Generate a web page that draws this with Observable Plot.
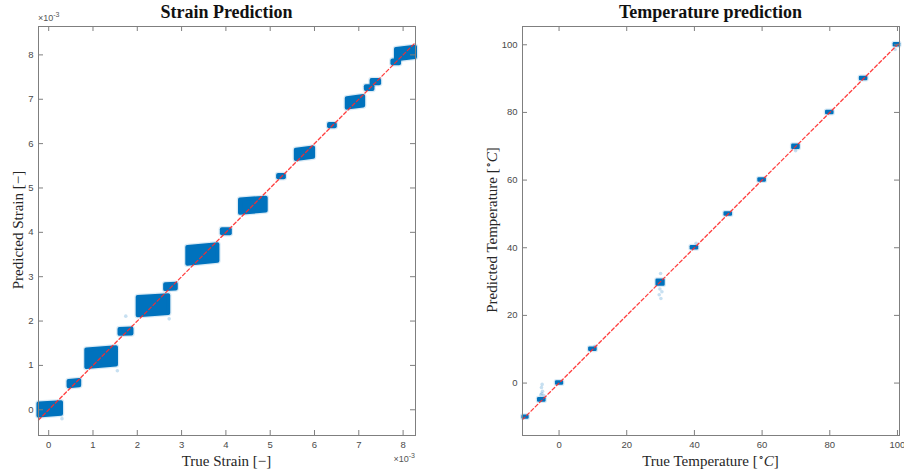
<!DOCTYPE html>
<html><head><meta charset="utf-8">
<script src="https://cdn.jsdelivr.net/npm/d3@7"></script>
<script src="https://cdn.jsdelivr.net/npm/@observablehq/plot@0.6"></script>
<style>
body{margin:0;background:#fff;}
#wrap{position:relative;width:904px;height:472px;overflow:hidden;background:#fff;}
.panel{position:absolute;top:0;}
#overlay{position:absolute;left:0;top:0;pointer-events:none;}
</style></head>
<body><div id="wrap"></div>
<script>
// ---- Strain prediction clusters (units of 1e-3) ----
// true-strain extent of each cluster, and predicted extent at its left and right edge
const strainTrueLo  = [-0.22, 0.46, 0.86, 1.61, 2.02, 2.64, 3.14, 3.92, 4.33, 5.19, 5.59, 6.34, 6.74, 7.17, 7.30, 7.77, 7.85];
const strainTrueHi  = [ 0.29, 0.70, 1.53, 1.88, 2.71, 2.88, 3.82, 4.10, 4.91, 5.32, 5.98, 6.47, 7.11, 7.32, 7.47, 7.92, 8.28];
const strainPredLoL = [-0.14, 0.52, 0.95, 1.70, 2.12, 2.71, 3.28, 3.97, 4.43, 5.23, 5.64, 6.38, 6.80, 7.22, 7.35, 7.80, 7.89];
const strainPredHiL = [ 0.13, 0.64, 1.35, 1.81, 2.53, 2.82, 3.66, 4.06, 4.73, 5.28, 5.85, 6.43, 7.01, 7.28, 7.42, 7.86, 8.12];
const strainPredLoR = [-0.10, 0.54, 1.01, 1.71, 2.17, 2.72, 3.35, 3.97, 4.48, 5.23, 5.69, 6.38, 6.85, 7.22, 7.35, 7.80, 7.94];
const strainPredHiR = [ 0.16, 0.66, 1.40, 1.82, 2.57, 2.83, 3.72, 4.06, 4.77, 5.28, 5.90, 6.43, 7.06, 7.28, 7.42, 7.86, 8.17];
const strainStrayTrue = [1.55, 1.74, 2.72, 0.30];
const strainStrayPred = [0.88, 2.11, 2.05, -0.20];
const strainTicks = [0, 1, 2, 3, 4, 5, 6, 7, 8];

// ---- Temperature prediction clusters (°C) ----
const tempTrueLo = [-10.6, -6.0, -0.7,  9.1, 29.0, 39.1, 49.1, 59.1, 69.1, 79.1, 89.1, 99.1];
const tempTrueHi = [ -9.2, -4.2,  1.0, 10.9, 31.0, 40.9, 50.9, 60.9, 70.9, 80.9, 90.9, 100.6];
const tempPredLo = [-10.3, -5.3, -0.3,  9.7, 29.0, 39.7, 49.7, 59.7, 69.4, 79.7, 89.7, 99.7];
const tempPredHi = [ -9.8, -4.6,  0.3, 10.3, 30.4, 40.3, 50.3, 60.3, 70.3, 80.3, 90.3, 100.3];
const tempStrayTrue = [-5.0, -5.2, -4.9, -5.1, -4.5, -5.4, 30.0, 29.8, 30.4, 29.6, 30.1, 40.5, 99.3, 69.9, 10.6];
const tempStrayPred = [-0.4, -1.3, -2.4, -3.1, -3.7, -3.5, 32.4, 27.8, 27.0, 26.1, 25.0, 41.3, 98.6, 68.7, 10.9];
const tempTicks = [0, 20, 40, 60, 80, 100];

const BLUE = "#0072BD";
const AX = "#7f7f7f";

// each cluster becomes a two-stop band (left edge, right edge)
function bands(xl, xh, loL, hiL, loR, hiR) {
  const out = [];
  xl.forEach((d, i) => {
    out.push({id: i, x: d, lo: loL[i], hi: hiL[i]});
    out.push({id: i, x: xh[i], lo: loR[i], hi: hiR[i]});
  });
  return out;
}
function pts(xs, ys) { return xs.map((d, i) => ({x: d, y: ys[i]})); }

function panel({xDomain, yDomain, xTicks, yTicks, ml, mr, clusters, strays, lo, hi, sw}) {
  const W = 452, H = 472, mt = 26, mb = 37;
  const ph = H - mt - mb, pw = W - ml - mr;
  return Plot.plot({
    width: W, height: H, marginLeft: ml, marginRight: mr, marginTop: mt, marginBottom: mb,
    x: {domain: xDomain}, y: {domain: yDomain},
    style: {fontFamily: "'Liberation Sans', Arial, sans-serif", fontSize: "9.5px", color: "#4a4a4a", background: "white", overflow: "visible"},
    marks: [
      Plot.areaY(clusters, {x: "x", y1: "lo", y2: "hi", z: "id", fill: BLUE, fillOpacity: 0.15,
        stroke: BLUE, strokeOpacity: 0.15, strokeWidth: sw + 2.5, strokeLinejoin: "round"}),
      Plot.areaY(clusters, {x: "x", y1: "lo", y2: "hi", z: "id", fill: BLUE,
        stroke: BLUE, strokeWidth: sw, strokeLinejoin: "round"}),
      Plot.dot(strays, {x: "x", y: "y", r: 1.8, fill: BLUE, fillOpacity: 0.22}),
      Plot.line([[lo, lo], [hi, hi]], {x: d => d[0], y: d => d[1], stroke: "#ff2a2a", strokeOpacity: 0.9, strokeWidth: 1.3, strokeDasharray: "3.5,2.5"}),
      Plot.frame({stroke: AX, strokeWidth: 1}),
      Plot.ruleX(xTicks, {x: d => d, insetTop: ph - 5, stroke: AX}),
      Plot.ruleX(xTicks, {x: d => d, insetBottom: ph - 5, stroke: AX}),
      Plot.ruleY(yTicks, {y: d => d, insetRight: pw - 5, stroke: AX}),
      Plot.ruleY(yTicks, {y: d => d, insetLeft: pw - 5, stroke: AX}),
      Plot.axisX(xTicks, {tickSize: 0, tickPadding: 6, label: null, tickFormat: d => String(d)}),
      Plot.axisY(yTicks, {tickSize: 0, tickPadding: 5, label: null, tickFormat: d => String(d)})
    ]
  });
}

const wrap = document.getElementById("wrap");

const left = panel({
  xDomain: [-0.23, 8.28], yDomain: [-0.58, 8.64],
  xTicks: strainTicks, yTicks: strainTicks, ml: 38, mr: 37,
  clusters: bands(strainTrueLo, strainTrueHi, strainPredLoL, strainPredHiL, strainPredLoR, strainPredHiR),
  strays: pts(strainStrayTrue, strainStrayPred), lo: -0.23, hi: 8.26, sw: 4
});
left.classList.add("panel"); left.style.left = "0px";
wrap.appendChild(left);

const right = panel({
  xDomain: [-10.8, 100.6], yDomain: [-15.5, 105.4],
  xTicks: tempTicks, yTicks: tempTicks, ml: 70, mr: 5,
  clusters: bands(tempTrueLo, tempTrueHi, tempPredLo, tempPredHi, tempPredLo, tempPredHi),
  strays: pts(tempStrayTrue, tempStrayPred), lo: -10.8, hi: 100.2, sw: 2.5
});
right.classList.add("panel"); right.style.left = "452px";
wrap.appendChild(right);

// ---- Text overlay: titles, axis labels, exponents ----
const svg = d3.select(wrap).append("svg").attr("id", "overlay").attr("width", 904).attr("height", 472);
const serif = "'Liberation Serif', 'Times New Roman', serif";
function txt(x, y, s, opts = {}) {
  const t = svg.append("text").attr("x", x).attr("y", y)
    .attr("font-family", opts.family || serif).attr("font-size", opts.size || 15.5)
    .attr("font-weight", opts.weight || "normal").attr("fill", opts.fill || "#262626")
    .attr("text-anchor", opts.anchor || "middle");
  if (s) t.text(s);
  if (opts.rotate) t.attr("transform", `rotate(-90 ${x} ${y})`);
  return t;
}
txt(226.5, 18, "Strain Prediction", {size: 18, weight: "bold", fill: "#111"});
txt(710.5, 18, "Temperature prediction", {size: 18, weight: "bold", fill: "#111"});
txt(226.5, 465.5, "True Strain [−]", {size: 15});
txt(23, 230, "Predicted Strain [−]", {size: 15, rotate: true});
function tempLabel(x, y, first, rotate) {
  const t = txt(x, y, "", {size: 15, rotate});
  t.append("tspan").text(first + " [");
  t.append("tspan").attr("font-size", 10).attr("dy", -6).text("∘");
  t.append("tspan").attr("dy", 6).attr("font-style", "italic").text("C");
  t.append("tspan").text("]");
}
tempLabel(710.5, 465.5, "True Temperature", false);
tempLabel(497, 230, "Predicted Temperature", true);
function expo(x, y, anchor) {
  const t = txt(x, y, "", {size: 9, family: "'Liberation Sans', Arial, sans-serif", fill: "#555", anchor});
  t.append("tspan").text("×10");
  t.append("tspan").attr("font-size", 7).attr("dy", -4).text("-3");
}
expo(38, 21, "start");
expo(415, 462, "end");
</script>
</body></html>
